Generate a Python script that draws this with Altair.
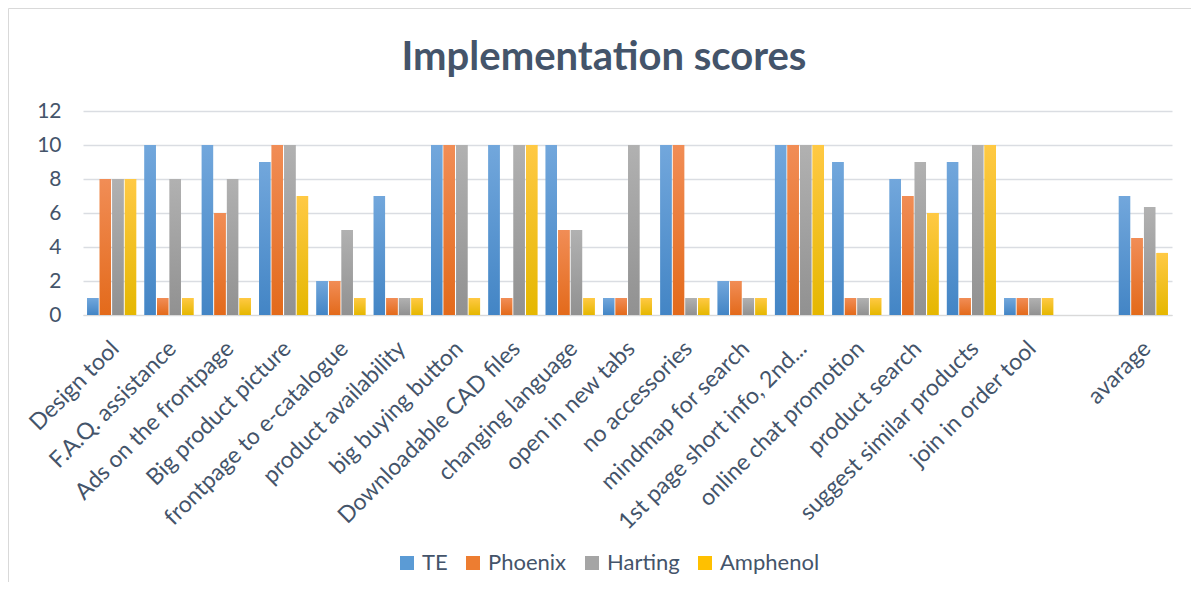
import altair as alt
import pandas as pd

title_text = "Implementation scores"
categories = [
    "Design tool", "F.A.Q. assistance", "Ads on the frontpage", "Big product picture",
    "frontpage to e-catalogue", "product availability", "big buying button",
    "Downloadable CAD files", "changing language", "open in new tabs", "no accessories",
    "mindmap for search", "1st page short info, 2nd...", "online chat promotion",
    "product search", "suggest similar products", "join in order tool", "avarage",
]
te = [1, 10, 10, 9, 2, 7, 10, 10, 10, 1, 10, 2, 10, 9, 8, 9, 1, 7.0]
phoenix = [8, 1, 6, 10, 2, 1, 10, 1, 5, 1, 10, 2, 10, 1, 7, 1, 1, 4.53]
harting = [8, 8, 8, 10, 5, 1, 10, 10, 5, 10, 1, 1, 10, 1, 9, 10, 1, 6.35]
amphenol = [8, 1, 1, 7, 1, 1, 1, 10, 1, 1, 1, 1, 10, 1, 6, 10, 1, 3.65]
series = ["TE", "Phoenix", "Harting", "Amphenol"]
solid_colors = ["#5B9BD5", "#ED7D31", "#A5A5A5", "#FFC000"]
grad_top = ["#72A7DC", "#F18D56", "#B1B1B1", "#FFC944"]
grad_bottom = ["#4385C5", "#E36A1B", "#919191", "#E5B700"]
y_ticks = [0, 2, 4, 6, 8, 10, 12]

x_domain = categories[:-1] + [" "] + categories[-1:]

rows = []
for s, vals in zip(series, [te, phoenix, harting, amphenol]):
    for c, v in zip(categories, vals):
        rows.append({"category": c, "series": s, "value": v})
df = pd.DataFrame(rows)

FONT = "Lato"
TEXT = "#44546A"

base = alt.Chart(df).encode(
    x=alt.X(
        "category:N",
        sort=x_domain,
        scale=alt.Scale(domain=x_domain, paddingInner=0.145, paddingOuter=0.0725),
        axis=alt.Axis(
            title=None, labelAngle=-45, labelFontSize=23, labelFont=FONT,
            labelColor=TEXT, ticks=False, domainColor="#D9D9D9", domainWidth=1,
            labelPadding=22, labelOffset=-4, grid=False, labelLimit=400,
        ),
    ),
    xOffset=alt.XOffset("series:N", scale=alt.Scale(domain=series, paddingInner=0.1)),
    y=alt.Y(
        "value:Q",
        scale=alt.Scale(domain=[0, 12]),
        axis=alt.Axis(
            title=None, values=y_ticks, labelFontSize=21,
            labelFont=FONT, labelColor=TEXT, ticks=False, domain=False,
            gridColor="#DADDE2", gridWidth=1.3, labelPadding=22,
        ),
    ),
)

legend_layer = base.mark_bar().encode(
    color=alt.Color(
        "series:N",
        scale=alt.Scale(domain=series, range=solid_colors),
        legend=alt.Legend(
            title=None, orient="none", direction="horizontal", legendX=313,
            legendY=441, symbolType="square", symbolSize=196, symbolStrokeWidth=0,
            labelFontSize=22, labelFont=FONT, labelColor=TEXT, labelOffset=4,
            columnPadding=14,
        ),
    )
)

grad_layers = []
for s, top, bottom in zip(series, grad_top, grad_bottom):
    grad_layers.append(
        base.transform_filter(alt.datum.series == s).mark_bar(
            color=alt.Gradient(
                gradient="linear",
                stops=[alt.GradientStop(color=top, offset=0),
                       alt.GradientStop(color=bottom, offset=1)],
                x1=0, x2=0, y1=0, y2=1,
            )
        )
    )

one = pd.DataFrame({"a": [0]})
frame_left = alt.Chart(one).mark_rule(color="#D9D9D9", strokeWidth=1).encode(
    x=alt.value(-74.5), y=alt.value(-102.5), y2=alt.value(500)
)
frame_top = alt.Chart(one).mark_rule(color="#D9D9D9", strokeWidth=1).encode(
    x=alt.value(-74.5), x2=alt.value(1200), y=alt.value(-102.5)
)
title = alt.Chart(one).mark_text(
    text=title_text, fontSize=40, fontWeight="bold", font=FONT, color=TEXT,
    align="center", baseline="alphabetic",
).encode(x=alt.value(521), y=alt.value(-41))

chart = alt.layer(frame_left, frame_top, title, legend_layer, *grad_layers).properties(
    width=1089,
    height=204,
    autosize=alt.AutoSizeParams(type="none"),
    padding={"left": 75, "top": 103, "right": 19, "bottom": 267},
).configure_view(stroke=None)

chart.save("out.html", embed_options={"renderer": "svg", "actions": False})
